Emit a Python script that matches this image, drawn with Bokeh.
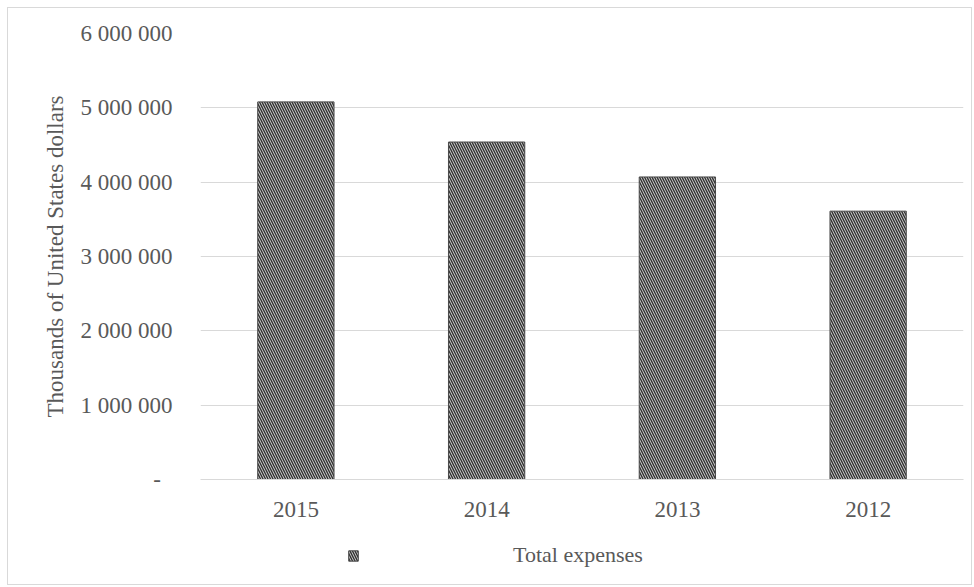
from bokeh.plotting import figure
from bokeh.layouts import column
from bokeh.models import ColumnDataSource, FixedTicker, Legend, LegendItem, Range1d
from bokeh.embed import file_html
from bokeh.resources import INLINE

# Total expenses, thousands of US dollars
years = ["2015", "2014", "2013", "2012"]
expenses = [5080000, 4540000, 4070000, 3610000]
y_ticks = [0, 1000000, 2000000, 3000000, 4000000, 5000000, 6000000]
y_tick_labels = ["-\u00a0\u00a0", "1 000 000", "2 000 000", "3 000 000",
                 "4 000 000", "5 000 000", "6 000 000"]
series_name = "Total expenses"

FONT = "Liberation Serif"
TEXT = "#595959"
GRID = "#d9d9d9"
BAR_STYLE = dict(
    fill_color="#c6c6c6", line_color="#4a4a4a", line_width=1,
    hatch_pattern="\\", hatch_color="#2e2e2e", hatch_scale=5, hatch_weight=1.3,
)

source = ColumnDataSource(data=dict(year=years, value=expenses))

p = figure(
    x_range=years, y_range=(0, 6000000),
    width=963, height=520,
    output_backend="svg", toolbar_location=None,
    min_border_left=192, min_border_right=8,
    min_border_top=25, min_border_bottom=49,
)
p.outline_line_color = None
p.border_fill_color = "white"
p.x_range.range_padding = 0

p.vbar(x="year", top="value", width=0.40, source=source, **BAR_STYLE)

# y axis
p.yaxis.ticker = FixedTicker(ticks=y_ticks)
p.yaxis.major_label_overrides = {t: s for t, s in zip(y_ticks, y_tick_labels)}
p.yaxis.axis_line_color = None
p.yaxis.major_tick_line_color = None
p.yaxis.minor_tick_line_color = None
p.yaxis.major_label_standoff = 22
p.yaxis.major_label_text_font = FONT
p.yaxis.major_label_text_font_size = "23px"
p.yaxis.major_label_text_color = TEXT
p.yaxis.axis_label = "Thousands of United States dollars"
p.yaxis.axis_label_text_font = FONT
p.yaxis.axis_label_text_font_size = "23px"
p.yaxis.axis_label_text_font_style = "normal"
p.yaxis.axis_label_text_color = TEXT
p.yaxis.axis_label_standoff = 10

# x axis
p.xaxis.axis_line_color = GRID
p.xaxis.major_tick_line_color = None
p.xaxis.minor_tick_line_color = None
p.xaxis.major_label_standoff = 16
p.xaxis.major_label_text_font = FONT
p.xaxis.major_label_text_font_size = "23px"
p.xaxis.major_label_text_color = TEXT

p.xgrid.grid_line_color = None
p.ygrid.grid_line_color = GRID

# legend strip below the chart; its key glyph sits outside the visible range
leg = figure(
    width=963, height=56, x_range=Range1d(0, 1), y_range=Range1d(0, 1),
    output_backend="svg", toolbar_location=None,
    min_border=0,
)
leg.axis.visible = False
leg.grid.visible = False
leg.outline_line_color = None
leg.border_fill_color = "white"
key = leg.vbar(x=[5], top=[0], width=0.4, **BAR_STYLE)

legend = Legend(
    items=[LegendItem(label=series_name, renderers=[key])],
    location=(147, 16),
    orientation="horizontal",
    glyph_width=12, glyph_height=13,
    label_standoff=154,
    label_text_font=FONT, label_text_font_size="22px", label_text_color=TEXT,
    label_height=22,
    padding=0, margin=0, spacing=0,
    border_line_color=None, background_fill_alpha=0,
)
leg.add_layout(legend, "center")

layout = column(p, leg, spacing=0)
layout.margin = (8, 0, 0, 8)
layout.styles = {"outline": "1px solid #d9d9d9"}

open("out.html", "w").write(file_html(layout, INLINE))
